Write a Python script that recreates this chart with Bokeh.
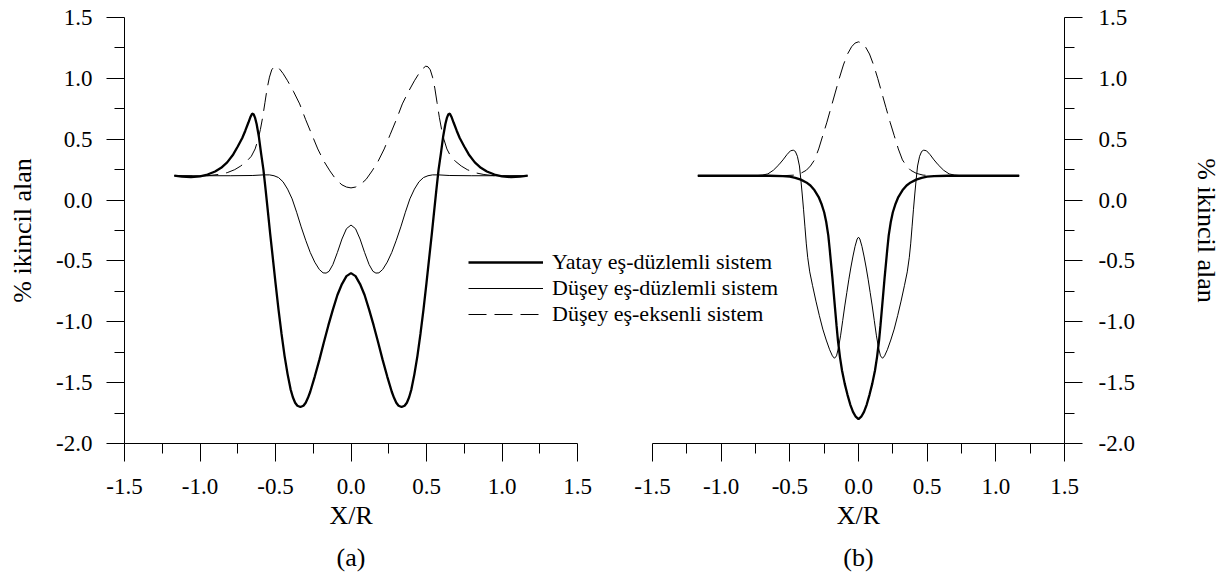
from bokeh.plotting import figure
from bokeh.layouts import row
from bokeh.models import (Range1d, FixedTicker, NumeralTickFormatter, Legend,
                          LegendItem, Title)
from bokeh.embed import file_html
from bokeh.resources import INLINE

FONT = "Liberation Serif"

# ---------------- data ----------------
x_ticks = [-1.5, -1.0, -0.5, 0.0, 0.5, 1.0, 1.5]
x_minor = [-1.25, -0.75, -0.25, 0.25, 0.75, 1.25]
y_ticks = [-2.0, -1.5, -1.0, -0.5, 0.0, 0.5, 1.0, 1.5]
y_minor = [-1.75, -1.25, -0.75, -0.25, 0.25, 0.75, 1.25]

series_names = ["Yatay eş-düzlemli sistem", "Düşey eş-düzlemli sistem",
                "Düşey eş-eksenli sistem"]
y_label = "% ikincil alan"
x_label = "X/R"
panel_labels = ["(a)", "(b)"]

# (a) Yatay eş-düzlemli
xa_thick = [-1.17, -1.12, -1.06, -1.00, -0.95, -0.90, -0.86, -0.82, -0.78, -0.75,
            -0.72, -0.70, -0.68, -0.665, -0.655, -0.645, -0.635, -0.625, -0.61, -0.595,
            -0.58, -0.565, -0.55, -0.535, -0.52, -0.50, -0.48, -0.46, -0.44, -0.42,
            -0.40, -0.385, -0.37, -0.355, -0.335, -0.315, -0.30, -0.285, -0.27, -0.24,
            -0.21, -0.18, -0.15, -0.12, -0.09, -0.06, -0.03, 0.0,
            0.03, 0.06, 0.09, 0.12, 0.15, 0.18, 0.21, 0.24, 0.27, 0.285,
            0.30, 0.315, 0.335, 0.355, 0.37, 0.385, 0.40, 0.42, 0.44, 0.46,
            0.48, 0.50, 0.52, 0.535, 0.55, 0.565, 0.58, 0.595, 0.61, 0.625,
            0.635, 0.645, 0.655, 0.665, 0.68, 0.70, 0.72, 0.75, 0.78, 0.82,
            0.86, 0.90, 0.95, 1.00, 1.06, 1.12, 1.17]
ya_thick = [0.200, 0.192, 0.188, 0.195, 0.210, 0.235, 0.265, 0.310, 0.375, 0.440,
            0.510, 0.570, 0.635, 0.685, 0.710, 0.705, 0.675, 0.625, 0.520, 0.380,
            0.250, 0.080, -0.100, -0.280, -0.450, -0.680, -0.900, -1.100, -1.280, -1.430,
            -1.555, -1.620, -1.665, -1.690, -1.700, -1.690, -1.665, -1.625, -1.575, -1.450,
            -1.315, -1.170, -1.030, -0.900, -0.780, -0.690, -0.625, -0.600,
            -0.625, -0.690, -0.780, -0.900, -1.030, -1.170, -1.315, -1.450, -1.575, -1.625,
            -1.665, -1.690, -1.700, -1.690, -1.665, -1.620, -1.555, -1.430, -1.280, -1.100,
            -0.900, -0.680, -0.450, -0.280, -0.100, 0.080, 0.250, 0.380, 0.520, 0.625,
            0.675, 0.705, 0.710, 0.685, 0.635, 0.570, 0.510, 0.440, 0.375, 0.310,
            0.265, 0.235, 0.210, 0.195, 0.188, 0.192, 0.200]

# (a) Düşey eş-düzlemli
xa_thin = [-1.17, -1.00, -0.80, -0.65, -0.58, -0.54, -0.51, -0.48, -0.45, -0.42,
           -0.39, -0.36, -0.33, -0.30, -0.27, -0.24, -0.21, -0.185, -0.165, -0.145,
           -0.12, -0.09, -0.06, -0.03, 0.0,
           0.03, 0.06, 0.09, 0.12, 0.145, 0.165, 0.185, 0.21, 0.24, 0.27,
           0.30, 0.33, 0.36, 0.39, 0.42, 0.45, 0.48, 0.51, 0.54, 0.58,
           0.65, 0.80, 1.00, 1.17]
ya_thin = [0.200, 0.200, 0.200, 0.202, 0.207, 0.207, 0.200, 0.185, 0.150, 0.090,
           0.010, -0.100, -0.220, -0.330, -0.430, -0.510, -0.570, -0.598, -0.600, -0.585,
           -0.530, -0.430, -0.320, -0.235, -0.205,
           -0.235, -0.320, -0.430, -0.530, -0.585, -0.600, -0.598, -0.570, -0.510, -0.430,
           -0.330, -0.220, -0.100, 0.010, 0.090, 0.150, 0.185, 0.200, 0.207, 0.207,
           0.202, 0.200, 0.200, 0.200]

# (a) Düşey eş-eksenli
xa_dash = [-1.17, -1.05, -0.95, -0.88, -0.82, -0.77, -0.73, -0.69, -0.66, -0.635,
           -0.615, -0.60, -0.585, -0.57, -0.555, -0.54, -0.525, -0.51, -0.495, -0.475,
           -0.45, -0.42, -0.38, -0.34, -0.30, -0.26, -0.22, -0.18, -0.14, -0.10,
           -0.06, -0.03, 0.0,
           0.03, 0.06, 0.10, 0.14, 0.18, 0.22, 0.26, 0.30, 0.34, 0.38,
           0.42, 0.45, 0.475, 0.495, 0.51, 0.525, 0.54, 0.555, 0.57, 0.585,
           0.60, 0.615, 0.635, 0.66, 0.69, 0.73, 0.77, 0.82, 0.88, 0.95,
           1.05, 1.17]
ya_dash = [0.200, 0.198, 0.200, 0.210, 0.225, 0.250, 0.280, 0.320, 0.360, 0.420,
           0.500, 0.580, 0.680, 0.800, 0.920, 1.010, 1.070, 1.095, 1.100, 1.080,
           1.040, 0.980, 0.890, 0.790, 0.660, 0.540, 0.420, 0.320, 0.240, 0.170,
           0.125, 0.107, 0.100,
           0.107, 0.125, 0.170, 0.240, 0.320, 0.420, 0.540, 0.660, 0.790, 0.890,
           0.980, 1.040, 1.080, 1.100, 1.095, 1.070, 1.010, 0.920, 0.800, 0.680,
           0.580, 0.500, 0.420, 0.360, 0.320, 0.280, 0.250, 0.225, 0.210, 0.200,
           0.198, 0.200]

# (b) Yatay eş-düzlemli
xb_thick = [-1.17, -1.00, -0.80, -0.65, -0.55, -0.50, -0.46, -0.42, -0.38, -0.35,
            -0.32, -0.29, -0.27, -0.25, -0.235, -0.22, -0.21, -0.20, -0.19, -0.18,
            -0.17, -0.16, -0.15, -0.135, -0.12, -0.10, -0.08, -0.06, -0.04, -0.02,
            0.0,
            0.02, 0.04, 0.06, 0.08, 0.10, 0.12, 0.135, 0.15, 0.16, 0.17,
            0.18, 0.19, 0.20, 0.21, 0.22, 0.235, 0.25, 0.27, 0.29, 0.32,
            0.35, 0.38, 0.42, 0.46, 0.50, 0.55, 0.65, 0.80, 1.00, 1.17]
yb_thick = [0.200, 0.200, 0.200, 0.200, 0.197, 0.192, 0.183, 0.168, 0.145, 0.120,
            0.080, 0.025, -0.030, -0.100, -0.180, -0.290, -0.400, -0.520, -0.640, -0.770,
            -0.900, -1.030, -1.150, -1.290, -1.400, -1.510, -1.600, -1.680, -1.740, -1.780,
            -1.800,
            -1.780, -1.740, -1.680, -1.600, -1.510, -1.400, -1.290, -1.150, -1.030, -0.900,
            -0.770, -0.640, -0.520, -0.400, -0.290, -0.180, -0.100, -0.030, 0.025, 0.080,
            0.120, 0.145, 0.168, 0.183, 0.192, 0.197, 0.200, 0.200, 0.200, 0.200]

# (b) Düşey eş-düzlemli
xb_thin = [-1.17, -1.00, -0.85, -0.75, -0.70, -0.66, -0.62, -0.58, -0.55, -0.52,
           -0.495, -0.475, -0.46, -0.445, -0.43, -0.42, -0.41, -0.40, -0.39, -0.38,
           -0.37, -0.355, -0.335, -0.31, -0.285, -0.26, -0.235, -0.21, -0.19, -0.175,
           -0.16, -0.145, -0.13, -0.115, -0.10, -0.085, -0.07, -0.055, -0.04, -0.025,
           -0.01, 0.0,
           0.01, 0.025, 0.04, 0.055, 0.07, 0.085, 0.10, 0.115, 0.13, 0.145,
           0.16, 0.175, 0.19, 0.21, 0.235, 0.26, 0.285, 0.31, 0.335, 0.355,
           0.37, 0.38, 0.39, 0.40, 0.41, 0.42, 0.43, 0.445, 0.46, 0.475,
           0.495, 0.52, 0.55, 0.58, 0.62, 0.66, 0.70, 0.75, 0.85, 1.00,
           1.17]
yb_thin = [0.200, 0.200, 0.200, 0.200, 0.205, 0.215, 0.245, 0.290, 0.330, 0.375,
           0.405, 0.410, 0.400, 0.360, 0.280, 0.170, 0.050, -0.080, -0.220, -0.360,
           -0.470, -0.590, -0.700, -0.830, -0.950, -1.060, -1.150, -1.230, -1.280, -1.300,
           -1.280, -1.210, -1.110, -0.990, -0.870, -0.760, -0.650, -0.550, -0.460, -0.380,
           -0.320, -0.305,
           -0.320, -0.380, -0.460, -0.550, -0.650, -0.760, -0.870, -0.990, -1.110, -1.210,
           -1.280, -1.300, -1.280, -1.230, -1.150, -1.060, -0.950, -0.830, -0.700, -0.590,
           -0.470, -0.360, -0.220, -0.080, 0.050, 0.170, 0.280, 0.360, 0.400, 0.410,
           0.405, 0.375, 0.330, 0.290, 0.245, 0.215, 0.205, 0.200, 0.200, 0.200,
           0.200]

# (b) Düşey eş-eksenli
xb_dash = [-1.17, -0.90, -0.70, -0.55, -0.47, -0.42, -0.38, -0.35, -0.32, -0.29,
           -0.26, -0.23, -0.20, -0.17, -0.14, -0.11, -0.08, -0.05, -0.025, 0.0,
           0.025, 0.05, 0.08, 0.11, 0.14, 0.17, 0.20, 0.23, 0.26, 0.29,
           0.32, 0.35, 0.38, 0.42, 0.47, 0.55, 0.70, 0.90, 1.17]
yb_dash = [0.200, 0.200, 0.200, 0.200, 0.205, 0.220, 0.245, 0.280, 0.330, 0.420,
           0.530, 0.640, 0.760, 0.880, 1.000, 1.110, 1.200, 1.260, 1.290, 1.300,
           1.290, 1.260, 1.200, 1.110, 1.000, 0.880, 0.760, 0.640, 0.530, 0.420,
           0.330, 0.280, 0.245, 0.220, 0.205, 0.200, 0.200, 0.200, 0.200]


# ---------------- styling helpers ----------------
def style_axis(ax, ticks, minor, label, standoff, label_standoff):
    ax.ticker = FixedTicker(ticks=ticks, minor_ticks=minor)
    ax.formatter = NumeralTickFormatter(format="0.0")
    ax.axis_label = label
    ax.axis_label_text_font = FONT
    ax.axis_label_text_font_size = "26px"
    ax.axis_label_text_font_style = "normal"
    ax.axis_label_text_color = "black"
    ax.axis_label_standoff = label_standoff
    ax.major_label_text_font = FONT
    ax.major_label_text_font_size = "23px"
    ax.major_label_text_color = "black"
    ax.major_label_standoff = standoff
    ax.axis_line_color = "black"
    ax.axis_line_width = 1
    ax.major_tick_line_color = "black"
    ax.minor_tick_line_color = "black"
    ax.major_tick_out = 18
    ax.major_tick_in = 0
    ax.minor_tick_out = 10
    ax.minor_tick_in = 0


def add_bottom_titles(p, align, off_xr, off_panel, panel_label):
    p.add_layout(Title(text=x_label, align=align, offset=off_xr, text_font=FONT,
                       text_font_size="26px", text_font_style="normal",
                       text_color="black", standoff=5), "below")
    p.add_layout(Title(text=panel_label, align=align, offset=off_panel,
                       text_font=FONT, text_font_size="26px",
                       text_font_style="normal", text_color="black",
                       standoff=16), "below")


def make_panel(width, bl, br, x_end, yside, x1, y1, x2, y2, x3, y3):
    p = figure(width=width, height=580,
               x_range=Range1d(-1.5, x_end), y_range=Range1d(-2.0, 1.5),
               y_axis_location=yside,
               output_backend="svg", toolbar_location=None,
               min_border_left=bl, min_border_right=br,
               min_border_top=17, min_border_bottom=137)
    p.xgrid.visible = False
    p.ygrid.visible = False
    p.outline_line_color = None
    style_axis(p.xaxis[0], x_ticks, x_minor, None, 17, 4)
    p.xaxis[0].bounds = (-1.5, 1.5)
    if yside == "left":
        style_axis(p.yaxis[0], y_ticks, y_minor, y_label, 14, 16)
    else:
        style_axis(p.yaxis[0], y_ticks, y_minor, y_label, 16, 54)
    r1 = p.line(x1, y1, line_color="black", line_width=2.3)
    r2 = p.line(x2, y2, line_color="black", line_width=1.0)
    r3 = p.line(x3, y3, line_color="black", line_width=1.0, line_dash="18 8")
    return p, (r1, r2, r3)


# left panel: axis spans 124..577 (151 px per unit); the frame is extended to
# the right so that the legend is not clipped
p1, rs = make_panel(810, 124, 10, -1.5 + 676 / 151.0, "left",
                    xa_thick, ya_thick, xa_thin, ya_thin, xa_dash, ya_dash)
add_bottom_titles(p1, "left", 205, 212, panel_labels[0])

legend = Legend(items=[LegendItem(label=series_names[i], renderers=[rs[i]])
                       for i in range(3)],
                location=(344, 116), orientation="vertical",
                label_text_font=FONT, label_text_font_size="22px",
                label_text_color="black",
                glyph_width=75, glyph_height=24, label_height=24,
                label_standoff=9, spacing=0, padding=0, margin=0,
                border_line_color=None, background_fill_alpha=0)
p1.add_layout(legend)

# right panel: frame 652..1064, transparent so it can overlap the left canvas
p2, _ = make_panel(626, 52, 162, 1.5, "right",
                   xb_thick, yb_thick, xb_thin, yb_thin, xb_dash, yb_dash)
add_bottom_titles(p2, "center", 0, 0, panel_labels[1])
p2.border_fill_color = None
p2.background_fill_color = None
p2.margin = (0, 0, 0, -210)

layout = row(p1, p2)

open("out.html", "w").write(file_html(layout, INLINE))
